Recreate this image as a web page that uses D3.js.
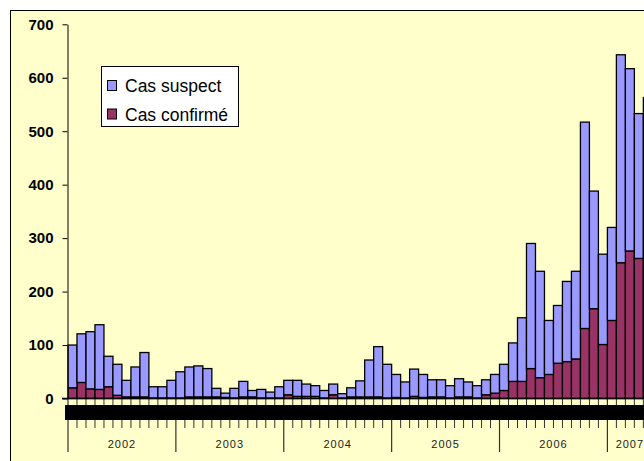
<!DOCTYPE html>
<html>
<head>
<meta charset="utf-8">
<script src="https://cdn.jsdelivr.net/npm/d3@7"></script>
<style>
  html, body { margin: 0; padding: 0; background: #fff; overflow: hidden; }
  svg { display: block; }
</style>
</head>
<body>
<svg id="chart" width="644" height="461"></svg>
<script>
// années et lettres des mois
var years = ["2002", "2003", "2004", "2005", "2006", "2007"];
var monthLetters = ["J", "F", "M", "A", "M", "J", "J", "A", "S", "O", "N", "D"];

// cas confirmés par mois (janv. 2002 -> mai 2007)
var confirme = [
  20, 30, 18, 17, 22, 6, 3, 3, 3, 1, 1, 1,
  1, 3, 3, 3, 3, 2, 1, 3, 3, 1, 1, 1,
  7, 4, 4, 4, 1, 7, 1, 3, 3, 3, 3, 1,
  2, 1, 4, 2, 3, 3, 1, 3, 3, 1, 7, 10,
  15, 32, 32, 56, 39, 45, 66, 69, 74, 131, 168, 101,
  146, 254, 276, 262, 262
];
// cas suspects (partie empilée au-dessus)
var suspect = [
  80, 91, 107, 121, 57, 58, 31, 56, 83, 21, 21, 33,
  49, 56, 58, 53, 16, 8, 18, 29, 12, 16, 11, 21,
  27, 30, 23, 20, 14, 20, 8, 17, 30, 69, 94, 63,
  43, 30, 51, 43, 32, 32, 23, 34, 28, 23, 28, 35,
  49, 72, 119, 234, 199, 101, 108, 150, 164, 386, 220, 169,
  174, 389, 341, 271, 301
];
var yTicks = [0, 100, 200, 300, 400, 500, 600, 700];

var svg = d3.select("#chart");

var months = confirme.map(function (d, i) {
  return {
    key: years[Math.floor(i / 12)] + "-" + (i % 12),
    year: years[Math.floor(i / 12)],
    m: i % 12,
    confirme: d,
    suspect: suspect[i]
  };
});

var step = 8.99;
var x0 = 68;
var xScale = d3.scaleBand()
  .domain(months.map(function (d) { return d.key; }))
  .range([x0, x0 + months.length * step])
  .padding(0);

var yScale = d3.scaleLinear().domain([0, 700]).range([398.5, 24.3]);

// cadre du graphique
svg.append("rect")
  .attr("x", 10.5)
  .attr("y", 10.5)
  .attr("width", 700)
  .attr("height", 500)
  .attr("fill", "#FFFFCC")
  .attr("stroke", "#000")
  .attr("stroke-width", 1);

// barres empilées
var stack = d3.stack().keys(["confirme", "suspect"]);
var series = stack(months);
var colors = { confirme: "#993366", suspect: "#9999FF" };

svg.append("g")
  .selectAll("g")
  .data(series)
  .join("g")
  .attr("fill", function (s) { return colors[s.key]; })
  .selectAll("rect")
  .data(function (s) { return s; })
  .join("rect")
  .attr("x", function (d) { return xScale(d.data.key); })
  .attr("y", function (d) { return yScale(d[1]); })
  .attr("width", xScale.bandwidth())
  .attr("height", function (d) { return yScale(d[0]) - yScale(d[1]); })
  .attr("stroke", "#000")
  .attr("stroke-width", 1.3);

// graduations des mois
var tickG = svg.append("g");
months.forEach(function (d) {
  var xx = xScale(d.key);
  tickG.append("line")
    .attr("x1", xx).attr("x2", xx)
    .attr("y1", 398.5)
    .attr("y2", d.m === 0 ? 452 : 428)
    .attr("stroke", "#333")
    .attr("stroke-width", d.m === 0 ? 1.2 : 1);
});

// bande noire des étiquettes de mois (illisibles dans l'original)
svg.append("rect")
  .attr("x", 65)
  .attr("y", 405)
  .attr("width", 640)
  .attr("height", 15)
  .attr("fill", "#000");

svg.append("g")
  .selectAll("text")
  .data(months)
  .join("text")
  .attr("x", function (d) { return xScale(d.key) + xScale.bandwidth() / 2; })
  .attr("y", 416)
  .attr("text-anchor", "middle")
  .attr("font-family", "Liberation Sans, Arial, sans-serif")
  .attr("font-weight", "bold")
  .attr("font-size", 9)
  .attr("fill", "#000")
  .text(function (d) { return monthLetters[d.m]; });

// étiquettes des années, centrées sur les mois présents
svg.append("g")
  .selectAll("text")
  .data(years)
  .join("text")
  .attr("x", function (y) {
    var ms = months.filter(function (d) { return d.year === y; });
    var a = xScale(ms[0].key);
    var b = xScale(ms[ms.length - 1].key) + xScale.bandwidth();
    return (a + b) / 2;
  })
  .attr("y", 448)
  .attr("text-anchor", "middle")
  .attr("font-family", "Liberation Sans, Arial, sans-serif")
  .attr("font-size", 11)
  .attr("letter-spacing", 1)
  .attr("fill", "#222")
  .text(function (d) { return d; });

// ligne de base
svg.append("line")
  .attr("x1", 62).attr("x2", 700)
  .attr("y1", 398.5).attr("y2", 398.5)
  .attr("stroke", "#000")
  .attr("stroke-width", 1.5);

// axe des ordonnées
var yAxis = svg.append("g")
  .attr("transform", "translate(67.5,0)")
  .call(d3.axisLeft(yScale).tickValues(yTicks).tickSize(5).tickSizeOuter(0).tickPadding(9));
yAxis.select(".domain").attr("stroke", "#000");
yAxis.selectAll("text")
  .attr("font-family", "Liberation Sans, Arial, sans-serif")
  .attr("font-weight", "bold")
  .attr("font-size", 15)
  .attr("fill", "#000");

// légende
var legend = svg.append("g");
legend.append("rect")
  .attr("x", 101.5).attr("y", 66.5)
  .attr("width", 137).attr("height", 60)
  .attr("fill", "#fff")
  .attr("stroke", "#000")
  .attr("stroke-width", 1);
var legendItems = [
  { label: "Cas suspect", color: colors.suspect },
  { label: "Cas confirmé", color: colors.confirme }
];
legendItems.forEach(function (d, i) {
  legend.append("rect")
    .attr("x", 107.5).attr("y", 80.5 + i * 28.5)
    .attr("width", 9).attr("height", 10)
    .attr("fill", d.color)
    .attr("stroke", "#000")
    .attr("stroke-width", 1);
  legend.append("text")
    .attr("x", 125)
    .attr("y", 92 + i * 28.5)
    .attr("font-family", "Liberation Sans, Arial, sans-serif")
    .attr("font-size", 17.5)
    .attr("fill", "#000")
    .text(d.label);
});
</script>
</body>
</html>
